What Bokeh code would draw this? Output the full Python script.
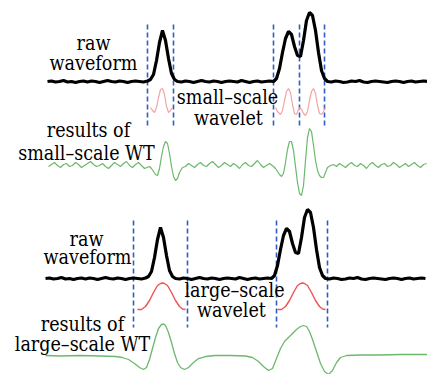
from bokeh.plotting import figure
from bokeh.models import Range1d
from bokeh.core.properties import value
from bokeh.embed import file_html
from bokeh.resources import INLINE

# ---------------- data (pixel-like units) ----------------
# raw waveform: sample positions and height above baseline
raw_x = (list(range(47, 148, 4))
         + [150, 153, 156, 159, 162, 165, 168, 171, 174, 177]
         + list(range(181, 274, 4))
         + list(range(276, 328, 3))
         + list(range(331, 428, 4)))
raw_h = ([0, 0.5, -0.5, 0, 1, -0.5, 0, -1, 0, 0.5, -0.5, 0.5, 0, -1, 0, 1, 0, -0.5, 0.5, 0, -1, 0, 0.5, 0, -0.5, 0.5]
         + [2, 7, 21, 39, 51, 41, 23, 8, 2, 0]
         + [-0.5, 0.5, 0, -1, 0, 1, 0, -0.5, 0.5, 0, -1, 0, 0.5, 0, -0.5, 1, 0, -1, 0, 0.5, -0.5, 0, 0.5, 0]
         + [3, 13, 29, 43, 50, 47, 35, 26, 25, 41, 61, 69, 66, 51, 29, 11, 3, 0]
         + [-0.5, 0.5, 0, -1, -0.5, 0.5, 0, 1, -0.5, -1, 0, 0.5, 0, -0.5, -1, 0, 0.5, 0, -1, 0, 0.5, -0.5, 0, 0.5, 0])

# small-scale wavelets (top)
sw1_x = [150, 152, 154, 156, 158, 160, 162, 164, 166, 168, 170, 172]
sw1_y = [107, 110, 112, 107, 97, 89, 88, 94, 106, 112, 110, 107]
sw2_x = [275, 277, 280, 282, 284, 286, 288, 290, 292, 294, 296, 298, 299.5, 301, 303, 305,
         307, 309, 311, 313, 315, 317, 319, 321, 323, 325]
sw2_y = [107, 111, 114, 110, 100, 91, 88, 92, 104, 113, 114, 109, 107, 109, 113, 115,
         111, 100, 91, 88, 93, 105, 113, 114, 111, 107]

# large-scale wavelet (bottom), relative x around its centre, and height
lw_dx = [-25, -21, -17, -13, -9, -5, -2, 0, 2, 5, 9, 13, 17, 20, 23]
lw_h = [0, 0, 3, 9, 17, 24, 26, 26.5, 26, 24, 17, 9, 3, 0.5, 0]
lw_centres = [162, 302]

# small-scale WT result (top, green)
swt_x = (list(range(48, 147, 3))
         + [149, 151, 153, 155, 157, 159, 161, 163, 165, 167, 169, 171, 173, 175, 177, 179]
         + list(range(182, 271, 3))
         + [273, 275, 277, 279, 281, 283, 285, 287, 289, 291, 293, 295, 297, 299, 301, 303,
            305, 307, 309, 311, 313, 315, 317, 319, 321, 323, 325, 327]
         + list(range(330, 428, 3)))
swt_y = ([166, 164, 162, 165, 167, 164, 163, 166, 165, 162, 164, 167, 165, 163, 161, 164, 166,
          165, 163, 166, 168, 165, 162, 164, 166, 163, 161, 165, 167, 164, 162, 165, 168, 166]
         + [168, 171, 174, 175, 168, 156, 146, 141, 143, 153, 166, 176, 180, 178, 172, 167]
         + [166, 163, 165, 167, 164, 162, 165, 166, 163, 161, 164, 167, 165, 162, 164, 166, 163,
            165, 168, 164, 162, 165, 166, 163, 160, 164, 167, 165, 163, 166]
         + [168, 171, 174, 176, 173, 162, 149, 141, 141, 150, 166, 182, 193, 195, 185, 160,
            137, 128, 131, 145, 160, 170, 175, 177, 177, 172, 167, 165]
         + [164, 166, 163, 165, 167, 164, 162, 165, 166, 163, 165, 168, 164, 162, 165, 167, 164,
            163, 166, 165, 162, 164, 167, 165, 163, 166, 164, 162, 165, 167, 164, 163, 165])

# large-scale WT result (bottom, green)
lwt_x = [45, 60, 80, 100, 115, 122, 128, 134, 139, 143, 146, 149, 152, 155, 158, 161, 163, 165,
         168, 171, 174, 177, 180, 184, 188, 193, 198, 205, 215, 230, 245, 252, 258, 263, 268,
         272, 276, 280, 284, 288, 292, 296, 300, 303, 306, 309, 312, 316, 320, 324, 328, 332,
         336, 340, 346, 360, 380, 400, 427]
lwt_y = [355, 355.5, 355, 355.5, 356, 357, 359, 363, 367, 369, 367, 359, 348, 337, 328, 324,
         323.5, 325, 332, 342, 353, 362, 367, 369, 367, 362, 358, 356, 355, 355, 355.5, 357,
         361, 366, 370, 368, 358, 348, 341, 337, 333, 329, 326, 325, 326, 331, 339, 351, 363,
         371, 374, 370, 362, 357, 355, 354.5, 354.5, 354, 354]

# dashed boundaries
top_dash_x = [147, 173, 273, 299, 324]
top_dash_span = (24, 128)
bot_dash_x = [133, 187, 276, 327]
bot_dash_span = (220, 327)

# labels
label_text = ["raw", "waveform", "small\u2013scale", "wavelet", "results of", "small\u2013scale WT",
              "raw", "waveform", "large\u2013scale", "wavelet", "results of", "large\u2013scale WT"]
label_x = [93, 93, 227, 228, 88, 86, 86, 87, 234, 231, 82, 82]
label_y = [43, 63, 97, 118, 130, 153, 239, 257, 290, 310, 324, 344]

top_base, bot_base = 81, 278
wavelet_base = 309

# ---------------- figure ----------------
p = figure(width=427, height=374, output_backend="svg", toolbar_location=None,
           x_range=Range1d(0, 427), y_range=Range1d(374, 0), min_border=0)
p.axis.visible = False
p.grid.visible = False
p.outline_line_color = None
p.background_fill_color = "white"

BLUE = "#2f5cc4"
for x in top_dash_x:
    p.line([x, x], list(top_dash_span), line_color=BLUE, line_width=1.6, line_dash="5 3")
for x in bot_dash_x:
    p.line([x, x], list(bot_dash_span), line_color=BLUE, line_width=1.6, line_dash="5 3")

# raw waveforms
p.line(raw_x, [top_base - h for h in raw_h], line_color="black", line_width=3.2)
p.line([x - 2 for x in raw_x], [bot_base - h for h in raw_h], line_color="black", line_width=3.2)

# wavelets
p.line(sw1_x, sw1_y, line_color="#f4a3a3", line_width=1.2)
p.line(sw2_x, sw2_y, line_color="#f4a3a3", line_width=1.2)
for c in lw_centres:
    p.line([c + d for d in lw_dx], [wavelet_base - h for h in lw_h], line_color="#f05252", line_width=1.4)

# WT results
p.line(swt_x, swt_y, line_color="#6cb86c", line_width=1.2)
p.line(lwt_x, lwt_y, line_color="#6cb86c", line_width=1.3)

p.text(label_x, label_y, text=label_text, text_align="center", text_baseline="middle",
       text_font=value("DejaVu Serif Condensed"), text_font_size="19.5px", text_color="black")

open("out.html", "w").write(file_html(p, INLINE))
